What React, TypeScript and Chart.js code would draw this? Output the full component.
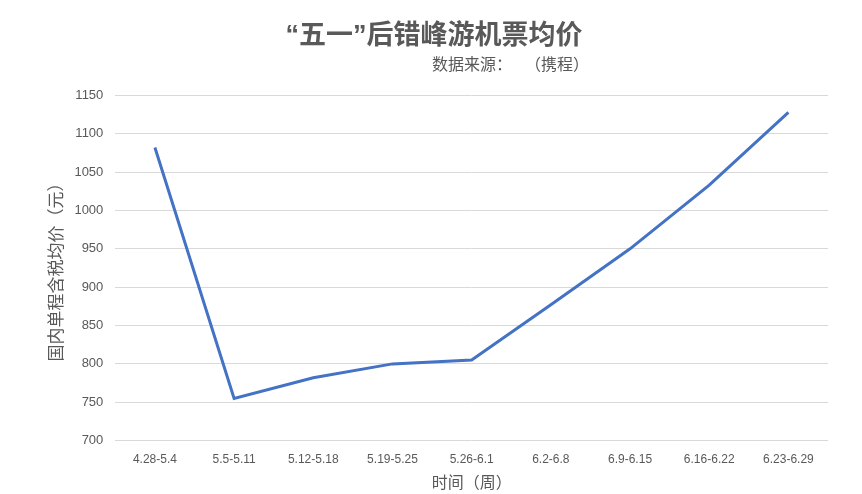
import { useEffect, useRef } from 'react';
import Chart from 'chart.js/auto';

const weeks = ['4.28-5.4', '5.5-5.11', '5.12-5.18', '5.19-5.25', '5.26-6.1', '6.2-6.8', '6.9-6.15', '6.16-6.22', '6.23-6.29'];
const avgFare = [1082, 755, 782, 800, 805, 877, 950, 1033, 1128];

const titleText = '“五一”后错峰游机票均价';
const sourceLabel = '数据来源：';
const sourceName = '（携程）';
const yTitle = '国内单程含税均价（元）';
const xTitle = '时间（周）';

const FONT = "'Liberation Sans', 'Noto Sans CJK SC', sans-serif";
const CJK = "'Noto Sans CJK SC', sans-serif";
const GREY = '#595959';

// source note under the title, starting at the centre; drawn in two parts
// so the browser does not squeeze the full-width colon and bracket together
const sourceNote = {
  id: 'sourceNote',
  afterDraw(chart: any) {
    const ctx = chart.ctx;
    ctx.save();
    ctx.font = `16px ${CJK}`;
    ctx.fillStyle = GREY;
    ctx.textAlign = 'left';
    ctx.textBaseline = 'middle';
    const x = chart.width / 2 + 1;
    ctx.fillText(sourceLabel, x, 64);
    ctx.fillText(sourceName, x + ctx.measureText(sourceLabel).width + 13, 64);
    ctx.restore();
  },
};

export default function App() {
  const canvasRef = useRef<HTMLCanvasElement>(null);

  useEffect(() => {
    if (!canvasRef.current) return;
    const chart = new Chart(canvasRef.current, {
      type: 'line',
      data: {
        labels: weeks,
        datasets: [
          {
            label: 'avg',
            data: avgFare,
            borderColor: '#4472C4',
            borderWidth: 3,
            pointRadius: 0,
            tension: 0,
          },
        ],
      },
      plugins: [sourceNote],
      options: {
        animation: false,
        responsive: true,
        maintainAspectRatio: false,
        layout: { padding: { left: 40, right: 34, top: 0, bottom: 4 } },
        plugins: {
          legend: { display: false },
          tooltip: { enabled: false },
          title: {
            display: true,
            text: titleText,
            color: GREY,
            font: { family: FONT, size: 27, weight: 'bold' },
            padding: { top: 20, bottom: 43 },
          },
        },
        scales: {
          x: {
            offset: true,
            grid: { display: false },
            border: { display: false },
            ticks: { color: GREY, font: { family: FONT, size: 12 }, padding: 4, maxRotation: 0 },
            title: {
              display: true,
              text: xTitle,
              color: GREY,
              font: { family: CJK, size: 16, lineHeight: 1 },
              padding: { top: 3, bottom: 0 },
            },
          },
          y: {
            min: 700,
            max: 1150,
            grid: { color: '#d9d9d9', lineWidth: 1, drawTicks: false },
            border: { display: false },
            ticks: {
              stepSize: 50,
              color: GREY,
              font: { family: FONT, size: 13 },
              padding: 12,
              callback: (v: any) => String(v),
            },
            title: {
              display: true,
              text: yTitle,
              color: GREY,
              font: { family: CJK, size: 17 },
              padding: { top: 5, bottom: -3 },
            },
          },
        },
      },
    });
    return () => chart.destroy();
  }, []);

  return (
    <div style={{ position: 'fixed', left: 0, top: 0, width: 862, height: 494, background: '#fff' }}>
      <canvas ref={canvasRef} />
    </div>
  );
}
